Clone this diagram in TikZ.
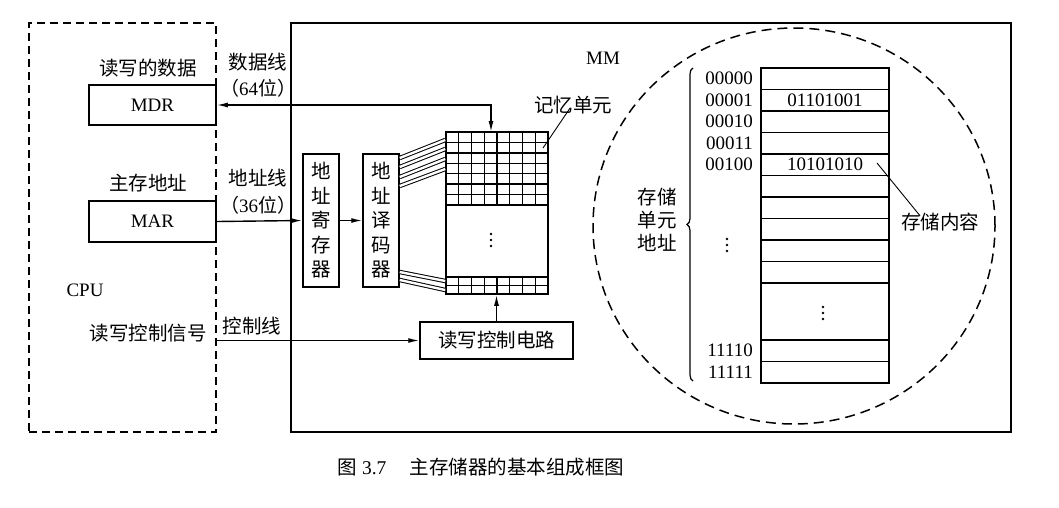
\documentclass[tikz,border=0pt]{standalone}
\usepackage{fontspec}
\setmainfont{Liberation Serif}
\newfontfamily\cjk{Noto Sans CJK SC}
\usetikzlibrary{arrows.meta,decorations.pathreplacing}
\begin{document}
\begin{tikzpicture}[x=1pt,y=-1pt,
  font=\fontsize{19}{22}\selectfont,
  box/.style={draw,line width=1.5pt,inner sep=0pt},
  lbl/.style={inner sep=0pt},
  arr/.style={line width=1.4pt,-{Latex[length=11pt,width=5pt]}},
  darr/.style={line width=1.4pt,{Latex[length=11pt,width=5pt]}-{Latex[length=11pt,width=5pt]}},
  thin/.style={line width=1.4pt},
  bus/.style={double,double distance=2.4pt,line width=1pt},
  dots/.pic={\foreach \d in {-6,0,6} \fill (0,\d) circle[radius=1.3pt];},
  ]
\useasboundingbox (0,0) rectangle (1059,507);
% outer boxes
\node[draw,dashed,dash pattern=on 8pt off 5pt,line width=1.5pt,minimum width=187pt,minimum height=409pt,inner sep=0pt] (cpu) at (122.5,227.5) {};
\node[box,line width=1.6pt,minimum width=720pt,minimum height=409pt] (mm) at (651,227.5) {};
% CPU contents
\node[lbl,font=\fontsize{19.5}{22}\selectfont\cjk] (tdata) at (148,68) {读写的数据};
\node[box,minimum width=127pt,minimum height=40pt] (mdr) at (152.5,105) {MDR};
\node[lbl,font=\fontsize{19.5}{22}\selectfont\cjk] (taddr) at (148,183) {主存地址};
\node[box,minimum width=127pt,minimum height=41pt] (mar) at (152.5,221.5) {MAR};
\node[lbl] (tcpu) at (85,290) {CPU};
\node[lbl,font=\fontsize{19.5}{22}\selectfont\cjk] (tctl) at (148,333) {读写控制信号};
% bus labels
\node[lbl,font=\fontsize{19.5}{22}\selectfont\cjk] (dl1) at (258,62) {数据线};
\node[lbl] (dl2) at (258,88) {{\cjk （}64{\cjk 位）}};
\node[lbl,font=\fontsize{19.5}{22}\selectfont\cjk] (al1) at (258,178) {地址线};
\node[lbl] (al2) at (258,205) {{\cjk （}36{\cjk 位）}};
\node[lbl,font=\fontsize{19.5}{22}\selectfont\cjk] (cl) at (252,326) {控制线};
\node[lbl] (tmm) at (603,58) {MM};
% address register and decoder
\node[box,minimum width=36pt,minimum height=133pt,align=center,font=\fontsize{19.5}{24.5}\selectfont\cjk] (reg) at (321,220.5) {地\\址\\寄\\存\\器};
\node[box,minimum width=36pt,minimum height=133pt,align=center,font=\fontsize{19.5}{24.5}\selectfont\cjk] (dec) at (381,220.5) {地\\址\\译\\码\\器};
% memory cell grid
\node[box,minimum width=102pt,minimum height=162pt] (grid) at (497,213) {};
\foreach \i in {1,...,7} \draw[thin] (446+12.75*\i,132) -- (446+12.75*\i,205);
\foreach \j in {1,...,7} \draw[thin] (446,132+10.43*\j) -- (548,132+10.43*\j);
\foreach \i in {1,...,7} \draw[thin] (446+12.75*\i,277) -- (446+12.75*\i,294);
\draw[thin] (446,277) -- (548,277);
\draw[thin] (446,285.5) -- (548,285.5);
\pic at (491,240) {dots};
\node[lbl,font=\fontsize{19.5}{22}\selectfont\cjk] (tcell) at (573,105) {记忆单元};
\coordinate (cellpt) at (543,148);
\draw[line width=0.9pt] ([xshift=-3pt,yshift=6pt]tcell.south) -- (cellpt);
% decoder buses
\draw[bus] (dec.east |- 0,158) -- (grid.west |- 0,140);
\draw[bus] (dec.east |- 0,167) -- (grid.west |- 0,149);
\draw[bus] (dec.east |- 0,177) -- (grid.west |- 0,159);
\draw[bus] (dec.east |- 0,186) -- (grid.west |- 0,169);
\draw[bus] (dec.east |- 0,272) -- (grid.west |- 0,281);
\draw[bus] (dec.east |- 0,280) -- (grid.west |- 0,290);
% read/write control circuit
\node[box,minimum width=153pt,minimum height=37pt,font=\fontsize{19.5}{22}\selectfont\cjk] (ctl) at (496.5,340.5) {读写控制电路};
% connectors
\coordinate (dtop) at (491,132);
\draw[darr] (mdr.east) -- (mdr.east -| dtop) -- (dtop);
\draw[arr] (mar.east) -- (reg.west);
\draw[arr] (reg.east) -- (dec.west);
\draw[arr] (ctl.north) -- (ctl.north |- grid.south);
\draw[arr] (ctl.west -| cpu.east) -- (ctl.west);
% zoom circle
\draw[dashed,dash pattern=on 10pt off 6pt,line width=1.5pt] (794,226) ellipse [x radius=201pt,y radius=198pt];
% memory table
\node[box,minimum width=128pt,minimum height=315pt] (mem) at (825,225.5) {};
\foreach \k in {1,...,10} \draw[thin] (mem.west |- 0,68+21.5*\k) -- (mem.east |- 0,68+21.5*\k);
\draw[thin] (mem.west |- 0,340) -- (mem.east |- 0,340);
\draw[thin] (mem.west |- 0,361.5) -- (mem.east |- 0,361.5);
\node[lbl,anchor=east] (a0) at (753,78.75) {00000};
\node[lbl,anchor=east] (a1) at (753,100.25) {00001};
\node[lbl,anchor=east] (a2) at (753,121.75) {00010};
\node[lbl,anchor=east] (a3) at (753,143.25) {00011};
\node[lbl,anchor=east] (a4) at (753,164.75) {00100};
\node[lbl,anchor=east] (a30) at (753,350.75) {11110};
\node[lbl,anchor=east] (a31) at (753,372.25) {11111};
\node[lbl] (v1) at (825,100.25) {01101001};
\node[lbl] (v4) at (825,164.75) {10101010};
\pic at (727,245) {dots};
\pic at (823,313) {dots};
\draw[decorate,decoration={brace,amplitude=6pt},line width=1.2pt] (693,381) -- (693,68);
\node[lbl,align=center,font=\fontsize{19.5}{23}\selectfont\cjk] (taddrs) at (657,220) {存储\\单元\\地址};
\node[lbl,font=\fontsize{19.5}{22}\selectfont\cjk] (tcont) at (940,222) {存储内容};
\coordinate (contpt) at (877,163);
\draw[line width=0.9pt] (contpt) -- ([xshift=-20pt,yshift=-3pt]tcont.north);
% caption
\node[lbl,font=\fontsize{19.5}{22}\selectfont] (cap) at (481,467) {{\cjk 图} 3.7\hspace{1.2em}{\cjk 主存储器的基本组成框图}};
\end{tikzpicture}
\end{document}
